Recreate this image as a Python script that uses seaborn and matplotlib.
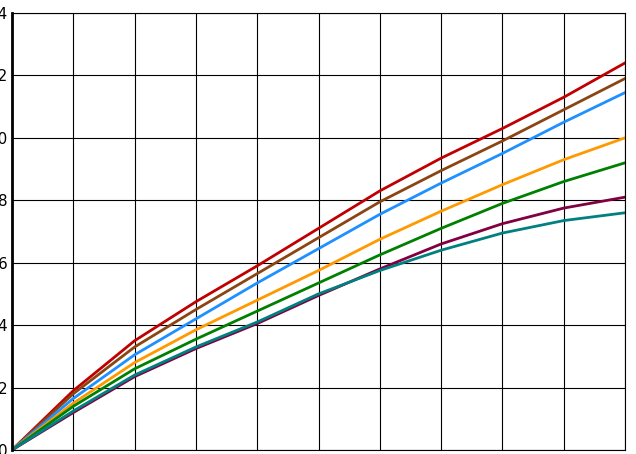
import matplotlib
matplotlib.use("Agg")
import matplotlib.pyplot as plt
import seaborn as sns
import pandas as pd

x = list(range(11))
red = [0, 1.9, 3.5, 4.75, 5.9, 7.1, 8.3, 9.35, 10.3, 11.3, 12.4]
brown = [0, 1.8, 3.3, 4.5, 5.65, 6.8, 7.95, 8.95, 9.9, 10.9, 11.9]
blue = [0, 1.65, 3.05, 4.2, 5.35, 6.45, 7.55, 8.55, 9.5, 10.5, 11.45]
orange = [0, 1.5, 2.8, 3.85, 4.8, 5.75, 6.75, 7.65, 8.5, 9.3, 10.0]
green = [0, 1.4, 2.6, 3.55, 4.45, 5.35, 6.25, 7.1, 7.9, 8.6, 9.2]
purple = [0, 1.2, 2.35, 3.25, 4.05, 4.95, 5.8, 6.6, 7.25, 7.75, 8.1]
teal = [0, 1.25, 2.4, 3.3, 4.1, 5.0, 5.75, 6.4, 6.95, 7.35, 7.6]

series = {"red": red, "brown": brown, "blue": blue, "orange": orange,
          "green": green, "purple": purple, "teal": teal}
colors = {"red": "#c00000", "brown": "#8b4513", "blue": "#1e90ff", "orange": "#ff9900",
          "green": "#008000", "purple": "#800040", "teal": "#008080"}

df = pd.concat([pd.DataFrame({"x": x, "y": v, "s": k}) for k, v in series.items()])

fig = plt.figure(figsize=(6.36, 4.54), dpi=100)
ax = fig.add_axes([12 / 636, 4 / 454, 613 / 636, 437 / 454])
sns.lineplot(data=df, x="x", y="y", hue="s", palette=colors, linewidth=2, legend=False, ax=ax)
ax.set_xlim(0, 10)
ax.set_ylim(0, 14)
ax.set_xticks(range(11))
ax.set_yticks(range(0, 15, 2))
ax.set_xticklabels([])
ax.grid(True, color="black", linewidth=0.8)
ax.set_axisbelow(True)
ax.tick_params(length=0, labelsize=11)
ax.set_xlabel("")
ax.set_ylabel("")
for sp in ax.spines.values():
    sp.set_linewidth(0.8)
ax.spines["left"].set_linewidth(2)
fig.savefig("out.png", dpi=100)
